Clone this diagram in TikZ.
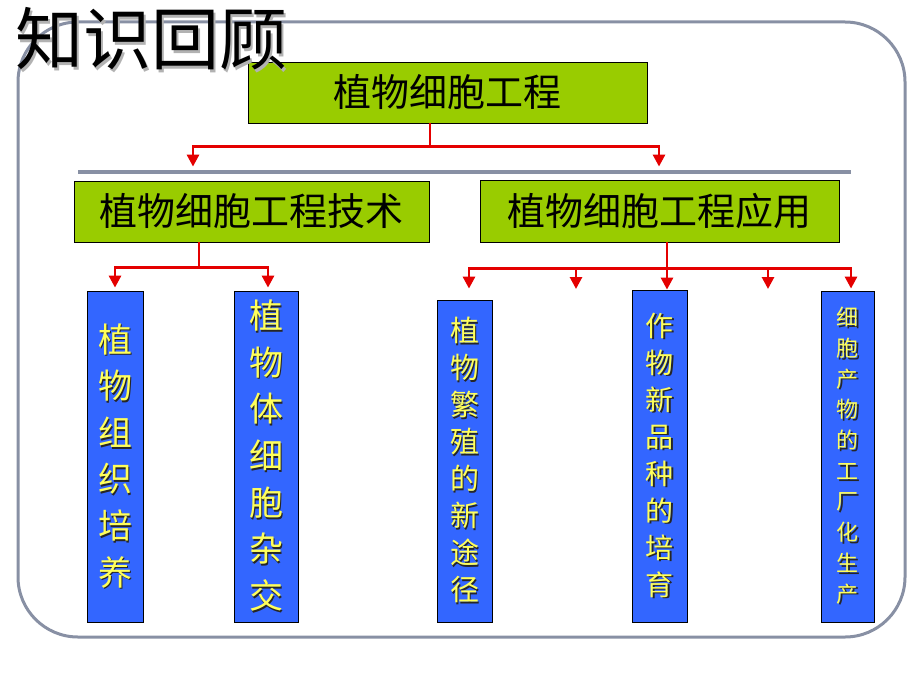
\documentclass[tikz,border=0pt]{standalone}
\usepackage{fontspec}
\setmainfont{Noto Sans CJK SC}
\usetikzlibrary{arrows.meta}

\definecolor{stagegreen}{RGB}{153,204,0}
\definecolor{leafblue}{RGB}{51,102,255}
\definecolor{linkred}{RGB}{228,0,0}
\definecolor{framegray}{RGB}{136,144,164}
\definecolor{leafyellow}{RGB}{255,255,90}

% shadowed characters
\newcommand\sh[1]{\makebox[0pt][l]{\kern1.8pt\raisebox{-1.8pt}{\textcolor{black!85}{#1}}}#1}
\newcommand\tsh[1]{\makebox[0pt][l]{\kern2.5pt\raisebox{-2.5pt}{\textcolor{black!30}{#1}}}#1}

\begin{document}
\begin{tikzpicture}[x = 1pt, y = -1pt]
\tikzstyle{StageStyle}=[draw = black, fill = stagegreen,
                        line width = 0.8pt, inner sep = 0pt,
                        font = \fontsize{38}{38}\selectfont]
\tikzstyle{LeafStyle}=[draw = black, fill = leafblue,
                       line width = 0.8pt, inner sep = 0pt,
                       text = leafyellow, align = center]
\tikzstyle{LinkStyle}=[draw = linkred, line width = 2.8pt]
\tikzstyle{ArrowStyle}=[LinkStyle, -{Triangle[width = 12pt, length = 12pt]}]
\useasboundingbox (0,0) rectangle (920,690);
\draw[framegray, line width = 3pt, rounded corners = 60pt] (18,22) rectangle (905,637);
\draw[framegray, line width = 3.5pt] (78,172) -- (851,172);
\node[StageStyle, minimum width = 399pt, minimum height = 61pt] (root) at (447.5,92.5) {植物细胞工程};
\node[StageStyle, minimum width = 355pt, minimum height = 61pt] (tech) at (251.5,211.5) {植物细胞工程技术};
\node[StageStyle, minimum width = 359pt, minimum height = 62pt] (app) at (659.5,211) {植物细胞工程应用};
\node[LeafStyle, minimum width = 56pt, minimum height = 331pt, font = \fontsize{34}{46.6}\selectfont] (tissue) at (115,456.5)
  {\sh{植}\\\sh{物}\\\sh{组}\\\sh{织}\\\sh{培}\\\sh{养}};
\node[LeafStyle, minimum width = 64pt, minimum height = 331pt, font = \fontsize{34}{46.7}\selectfont] (fusion) at (266,456.5)
  {\sh{植}\\\sh{物}\\\sh{体}\\\sh{细}\\\sh{胞}\\\sh{杂}\\\sh{交}};
\node[LeafStyle, minimum width = 55pt, minimum height = 322pt, font = \fontsize{29}{37}\selectfont] (propagate) at (464.5,461)
  {\sh{植}\\\sh{物}\\\sh{繁}\\\sh{殖}\\\sh{的}\\\sh{新}\\\sh{途}\\\sh{径}};
\node[LeafStyle, minimum width = 55pt, minimum height = 332pt, font = \fontsize{28}{37}\selectfont] (breed) at (659.5,456)
  {\sh{作}\\\sh{物}\\\sh{新}\\\sh{品}\\\sh{种}\\\sh{的}\\\sh{培}\\\sh{育}};
\node[LeafStyle, minimum width = 53pt, minimum height = 331pt, font = \fontsize{22}{30.7}\selectfont] (factory) at (847.5,456.5)
  {\sh{细}\\\sh{胞}\\\sh{产}\\\sh{物}\\\sh{的}\\\sh{工}\\\sh{厂}\\\sh{化}\\\sh{生}\\\sh{产}};
\coordinate (gapA) at (576,289);
\coordinate (gapB) at (768,289);
\draw[LinkStyle] ([xshift = -17.5pt]root.south) -- ++(0,23) coordinate (rootbar);
\draw[ArrowStyle] (rootbar) -| ([xshift = -58.5pt, yshift = 14pt]tech.north);
\draw[ArrowStyle] (rootbar) -| ([xshift = -0.5pt, yshift = 13pt]app.north);
\draw[LinkStyle] ([xshift = -52.5pt]tech.south) -- ++(0,25) coordinate (techbar);
\draw[ArrowStyle] (techbar) -| ([yshift = 3pt]tissue.north);
\draw[ArrowStyle] (techbar) -| ([xshift = 2pt, yshift = 3pt]fusion.north);
\draw[LinkStyle] ([xshift = 7.5pt]app.south) -- ++(0,26) coordinate (appbar);
\draw[ArrowStyle] (appbar) -| ([xshift = 4.5pt, yshift = 11pt]propagate.north);
\draw[ArrowStyle] (appbar) -| (gapA);
\draw[ArrowStyle] (appbar) -| ([xshift = 7.5pt]breed.north);
\draw[ArrowStyle] (appbar) -| (gapB);
\draw[ArrowStyle] (appbar) -| ([xshift = 3.5pt, yshift = 2pt]factory.north);
\node (title) at (151,40) {\fontsize{68}{68}\selectfont\tsh{知识回顾}};
\end{tikzpicture}
\end{document}
